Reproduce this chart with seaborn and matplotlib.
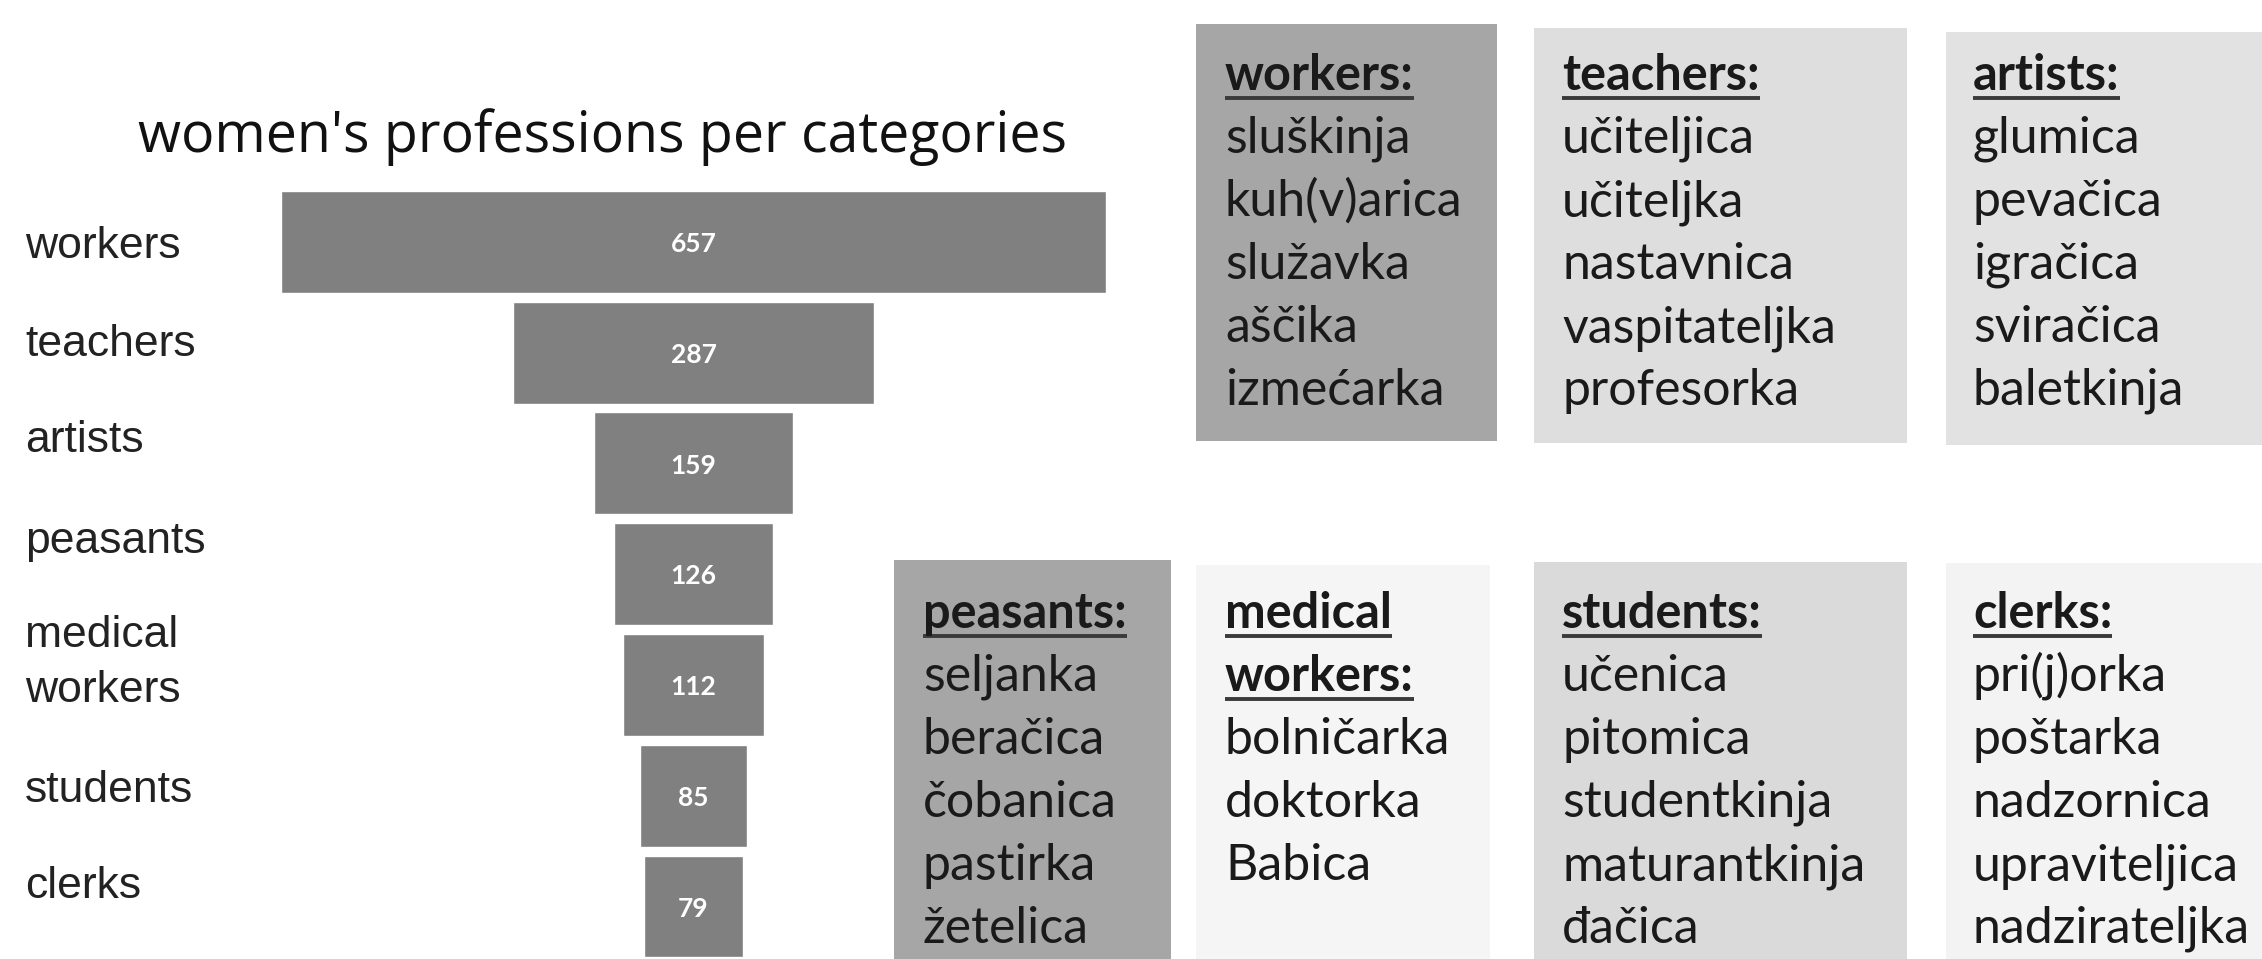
'''
Funnel of women's professions per category, with example word lists
'''

#%% imports
import matplotlib.pyplot as plt
import seaborn as sns
from matplotlib.patches import Rectangle

sns.set_style('white')
plt.rcParams['font.family'] = ['Liberation Sans', 'DejaVu Sans']

#%% data
categories = ['workers', 'teachers', 'artists', 'peasants', 'medical workers', 'students', 'clerks']
counts = [657, 287, 159, 126, 112, 85, 79]
axis_labels = ['workers', 'teachers', 'artists', 'peasants', 'medical\nworkers', 'students', 'clerks']

box_headers = {
    'workers': ['workers:'],
    'teachers': ['teachers:'],
    'artists': ['artists:'],
    'peasants': ['peasants:'],
    'medical': ['medical', 'workers:'],
    'students': ['students:'],
    'clerks': ['clerks:'],
}
box_words = {
    'workers': ['sluškinja', 'kuh(v)arica', 'služavka', 'aščika', 'izmećarka'],
    'teachers': ['učiteljica', 'učiteljka', 'nastavnica', 'vaspitateljka', 'profesorka'],
    'artists': ['glumica', 'pevačica', 'igračica', 'sviračica', 'baletkinja'],
    'peasants': ['seljanka', 'beračica', 'čobanica', 'pastirka', 'žetelica'],
    'medical': ['bolničarka', 'doktorka', 'Babica'],
    'students': ['učenica', 'pitomica', 'studentkinja', 'maturantkinja', 'đačica'],
    'clerks': ['pri(j)orka', 'poštarka', 'nadzornica', 'upraviteljica', 'nadzirateljka'],
}

#%% layout (pixels of a 2262x959 canvas)
W, H = 2262, 959
# x0, y0, x1, y1, fill colour
boxes = {
    'workers': (1196, 24, 1497, 441, '#a6a6a6'),
    'teachers': (1534, 28, 1907, 443, '#dedede'),
    'artists': (1946, 32, 2262, 445, '#e2e2e2'),
    'peasants': (894, 560, 1171, 959, '#a6a6a6'),
    'medical': (1196, 565, 1490, 959, '#f5f5f5'),
    'students': (1534, 562, 1907, 959, '#dadada'),
    'clerks': (1946, 563, 2262, 959, '#f3f3f3'),
}
text_x = {'workers': 1225, 'teachers': 1562, 'artists': 1973, 'peasants': 923,
          'medical': 1225, 'students': 1562, 'clerks': 1973}
first_line_y = {'top': 77, 'bottom': 615}
line_step = 63
label_y_px = [247, 345, 441, 542, 663, 790, 887]

fig = plt.figure(figsize=(W / 100, H / 100), dpi=100)
fig.patch.set_facecolor('white')

# overlay axes in pixel units for the word boxes
bg = fig.add_axes([0, 0, 1, 1])
bg.set_xlim(0, W)
bg.set_ylim(H, 0)
bg.axis('off')

box_font = ['Lato', 'DejaVu Sans']
renderer = fig.canvas.get_renderer()

for key, (x0, y0, x1, y1, col) in boxes.items():
    bg.add_patch(Rectangle((x0, y0), x1 - x0, y1 - y0, facecolor=col, edgecolor='none'))
    row = 'top' if y0 < 300 else 'bottom'
    lines = [(h, True) for h in box_headers[key]] + [(w, False) for w in box_words[key]]
    for k, (txt, is_head) in enumerate(lines):
        yc = first_line_y[row] + k * line_step
        t = bg.text(text_x[key], yc + 13, txt, family=box_font,
                    fontsize=35 if is_head else 36,
                    fontweight='bold' if is_head else 'normal', color='#1a1a1a',
                    ha='left', va='baseline')
        if is_head:
            bb = t.get_window_extent(renderer=renderer)
            bg.plot([text_x[key], text_x[key] + bb.width], [yc + 21, yc + 21],
                    color='#3a3a3a', lw=2.8, solid_capstyle='butt')

# title and category labels
fig.text(602 / W, 1 - 137 / H, "women's professions per categories",
         family=['Open Sans', 'DejaVu Sans'], fontsize=40, color='#111111',
         ha='center', va='center')
for lab, y in zip(axis_labels, label_y_px):
    fig.text(25 / W, 1 - y / H, lab, fontsize=32, color='#222222',
             ha='left', va='center', linespacing=1.42)

#%% funnel
ax = fig.add_axes([269.5 / W, -0.003, 848 / W, 0.8085])
df_counts = {'category': categories, 'count': counts}
sns.barplot(x=df_counts['count'], y=df_counts['category'], orient='h',
            color='#808080', saturation=1, width=0.92, ax=ax)
for p in ax.patches:
    p.set_x(-p.get_width() / 2)
ax.set_xlim(-337.7, 337.7)
for i, v in enumerate(counts):
    ax.text(0, i + 0.02, str(v), ha='center', va='center', color='white',
            fontweight='bold', fontsize=19, family=['Lato', 'DejaVu Sans'])
ax.axis('off')

fig.savefig('out.png', dpi=100)
